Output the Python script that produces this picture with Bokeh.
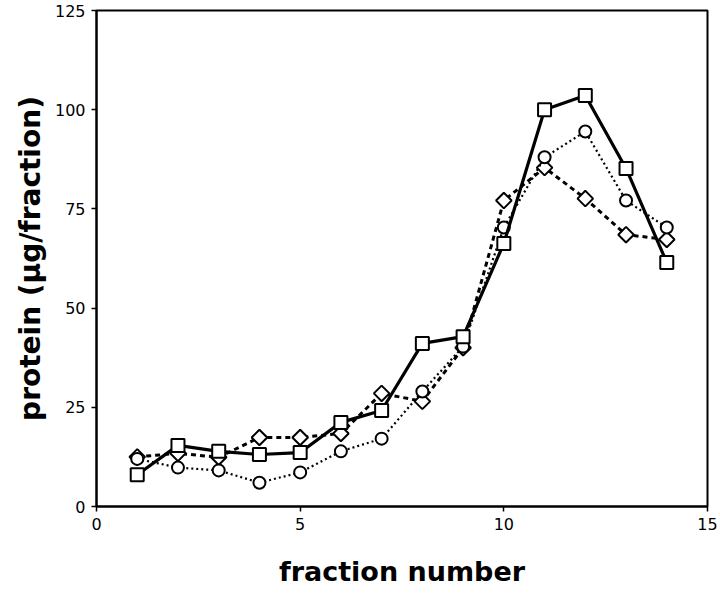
import math
from bokeh.plotting import figure
from bokeh.models import Range1d, FixedTicker
from bokeh.embed import file_html
from bokeh.resources import INLINE

fractions = [1, 2, 3, 4, 5, 6, 7, 8, 9, 10, 11, 12, 13, 14]
squares = [8.0, 15.4, 13.9, 13.1, 13.6, 21.2, 24.2, 41.1, 42.8, 66.3, 100.0, 103.6, 85.2, 61.5]
circles = [12.0, 9.8, 9.1, 6.0, 8.6, 13.9, 17.1, 29.0, 40.3, 70.3, 88.0, 94.5, 77.1, 70.3]
diamonds = [12.5, 13.4, 12.4, 17.4, 17.4, 18.4, 28.5, 26.5, 40.0, 77.1, 85.4, 77.6, 68.5, 67.3]
x_ticks = [0, 5, 10, 15]
y_ticks = [0, 25, 50, 75, 100, 125]

p = figure(width=720, height=594, output_backend="svg", toolbar_location=None,
           x_range=Range1d(0, 15), y_range=Range1d(0, 125),
           min_border_left=96, min_border_right=13, min_border_top=10, min_border_bottom=88)

p.background_fill_color = "white"
p.border_fill_color = "white"
p.outline_line_color = "black"
p.outline_line_width = 2
p.xgrid.visible = False
p.ygrid.visible = False

for ax, ticks in ((p.xaxis[0], x_ticks), (p.yaxis[0], y_ticks)):
    ax.ticker = FixedTicker(ticks=ticks)
    ax.axis_line_width = 2
    ax.axis_line_color = "black"
    ax.major_tick_line_width = 1.5
    ax.major_tick_line_color = "black"
    ax.major_tick_in = 0
    ax.major_tick_out = 5
    ax.minor_tick_line_color = None
    ax.major_label_text_font = "DejaVu Sans"
    ax.major_label_text_font_size = "16px"
    ax.major_label_text_color = "black"
    ax.major_label_standoff = 6
    ax.axis_label_text_font = "DejaVu Sans"
    ax.axis_label_text_font_style = "bold"
    ax.axis_label_text_color = "black"

p.xaxis.axis_label = "fraction number"
p.xaxis.axis_label_text_font_size = "27px"
p.xaxis.axis_label_standoff = 23
p.yaxis.axis_label = "protein (\u00b5g/fraction)"
p.yaxis.axis_label_text_font_size = "28px"
p.yaxis.axis_label_standoff = 5

# diamonds, dashed
p.line(fractions, diamonds, line_color="black", line_width=3, line_dash="5 4")
p.scatter(fractions, diamonds, marker="square", size=11, angle=math.pi / 4,
          fill_color="white", line_color="black", line_width=2)

# circles, dotted
p.line(fractions, circles, line_color="black", line_width=2.2, line_dash="2 3")
p.scatter(fractions, circles, marker="circle", size=12, fill_color="white",
          line_color="black", line_width=2)

# squares, solid
p.line(fractions, squares, line_color="black", line_width=3.2)
p.scatter(fractions, squares, marker="square", size=13, fill_color="white",
          line_color="black", line_width=2)

open("out.html", "w").write(file_html(p, INLINE))
